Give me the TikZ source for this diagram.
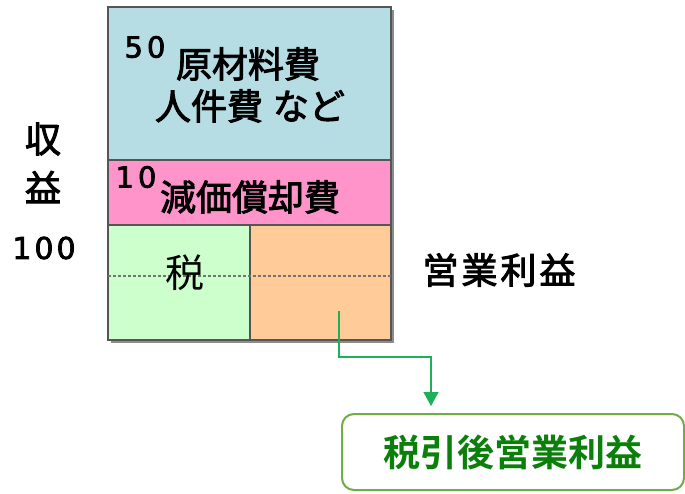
\documentclass[tikz,border=0pt]{standalone}
\usepackage{fontspec}
\setmainfont{Noto Sans CJK JP}
\newfontfamily\jpm[FakeBold=2.5]{Noto Sans CJK JP}
\newfontfamily\jpb[BoldFont={Noto Sans CJK JP Bold}]{Noto Sans CJK JP}
\newfontfamily\dig[FakeBold=2.5]{DejaVu Sans}
\usetikzlibrary{arrows.meta,calc}
\definecolor{cblue}{HTML}{B6DDE3}
\definecolor{cpink}{HTML}{FF94CB}
\definecolor{cgreen}{HTML}{CCFFCC}
\definecolor{corange}{HTML}{FFCC99}
\definecolor{cline}{HTML}{555555}
\definecolor{carrow}{HTML}{1DB058}
\definecolor{cbox}{HTML}{70AD47}
\definecolor{ctext}{HTML}{0A7F0A}
\tikzset{
  part/.style={draw=cline, line width=1.2pt, anchor=north west, inner sep=0pt, outer sep=0pt},
  lbl/.style={inner sep=0pt, anchor=center},
  jtext/.style={lbl, font=\jpm\fontsize{#1}{#1}\selectfont},
  num/.style={lbl, font=\dig\fontsize{#1}{#1}\selectfont},
}
\begin{document}
\begin{tikzpicture}[x=1pt,y=-1pt]
\useasboundingbox (0,0) rectangle (685,493);
% shadow
\fill[black!45] (111,10) rectangle (394,343);
\node[part, fill=cblue, minimum width=283pt, minimum height=153pt] (blue) at (108,7) {};
\node[part, fill=cpink, minimum width=283pt, minimum height=65pt] (pink) at (108,160) {};
\node[part, fill=cgreen, minimum width=142pt, minimum height=115pt] (tax) at (108,225) {};
\node[part, fill=corange, minimum width=141pt, minimum height=115pt] (op) at (250,225) {};
\draw[black!55, line width=1.3pt, dash pattern=on 3pt off 2pt] (tax.west |- 0,276) coordinate (dl) -- (op.east |- 0,276) coordinate (dr);

\node[num=29] (n50) at (145,47) {5\hspace{4pt}0};
\node[jtext=36] (t1) at (248,64) {原材料費};
\node[jtext=36] (t2) at (250,106) {人件費\hspace{10pt}など};
\node[num=29] (n10) at (136,177) {1\hspace{4pt}0};
\node[jtext=36] (t3) at (250,197) {減価償却費};
\node[lbl, font=\fontsize{39}{39}\selectfont] (t4) at (185,273) {税};

\node[jtext=36] (s1) at (43,139) {収};
\node[jtext=36] (s2) at (43,187) {益};
\node[num=30] (s3) at (44,248) {1\hspace{3pt}0\hspace{3pt}0};
\node[jtext=36] (eg) at (499,270) {営\hspace{3pt}業\hspace{3pt}利\hspace{3pt}益};

\node[draw=cbox, line width=2pt, rounded corners=12pt, anchor=north west, minimum width=342pt, minimum height=76pt, inner sep=0pt] (res) at (341,413) {};
\node[lbl, font=\jpb\bfseries\fontsize{37}{37}\selectfont, text=ctext] (rt) at (res.center) {税引後営業利益};

\coordinate (start) at (339,311);
\coordinate (bend) at (431,357);
\draw[carrow, line width=1.3pt, -{Triangle[width=15pt,length=14pt]}, shorten >=7pt] (start) |- (bend) -- (bend |- res.north);
\end{tikzpicture}
\end{document}
